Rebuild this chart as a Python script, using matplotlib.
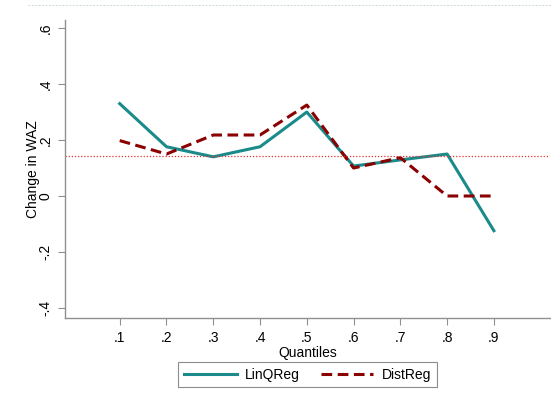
import matplotlib
matplotlib.use("Agg")
import matplotlib.pyplot as plt
from matplotlib.lines import Line2D

quantiles = [0.1, 0.2, 0.3, 0.4, 0.5, 0.6, 0.7, 0.8, 0.9]
tick_labels = [".1", ".2", ".3", ".4", ".5", ".6", ".7", ".8", ".9"]
linqreg = [0.33, 0.176, 0.14, 0.176, 0.30, 0.107, 0.129, 0.15, -0.124]
distreg = [0.198, 0.15, 0.218, 0.218, 0.325, 0.10, 0.137, 0.0, 0.0]
ref_line = 0.143
yticks = [-0.4, -0.2, 0, 0.2, 0.4, 0.6]
ytick_labels = ["-.4", "-.2", "0", ".2", ".4", ".6"]

plt.rcParams['font.family'] = ['Liberation Sans', 'DejaVu Sans']

fig = plt.figure(figsize=(5.51, 4.05), dpi=100)
ax = fig.add_axes([65/551, 1-318/405, (550-65)/551, (318-20)/405])

teal = '#1a8a8a'
maroon = '#8b0000'
ax.plot(quantiles, linqreg, color=teal, lw=2.2, label='LinQReg')
ax.plot(quantiles, distreg, color=maroon, lw=2.2, ls=(0, (3.5, 1.8)), label='DistReg')
ax.axhline(ref_line, color='#e03030', lw=0.9, ls=(0, (1, 1.5)))

ax.set_xlim(-0.017, 1.02)
ax.set_ylim(-0.436, 0.629)
ax.set_xticks(quantiles)
ax.set_xticklabels(tick_labels)
ax.set_yticks(yticks)
ax.set_yticklabels(ytick_labels, rotation=90, va='center')
ax.tick_params(labelsize=10, color='#909090', length=5, width=0.8, pad=4)
for s in ['top', 'right']:
    ax.spines[s].set_visible(False)
for s in ['left', 'bottom']:
    ax.spines[s].set_color('#909090')
    ax.spines[s].set_linewidth(1.0)

ax.set_xlabel('Quantiles', fontsize=10, labelpad=1)
ax.set_ylabel('Change in WAZ', fontsize=10, labelpad=-1)

leg = ax.legend(loc='upper center', bbox_to_anchor=(0.5, -0.125), ncol=2,
                frameon=True, fancybox=False, fontsize=10, handlelength=3.8,
                columnspacing=1.5, borderpad=0.4, handletextpad=0.6)
leg.get_frame().set_edgecolor('#707070')
leg.get_frame().set_linewidth(0.8)

fig.add_artist(Line2D([0.05, 1], [1-5/405, 1-5/405], color='#c8d8d8', lw=0.7, ls=(0, (2, 1.5)), transform=fig.transFigure))

fig.savefig('out.png', dpi=100)
